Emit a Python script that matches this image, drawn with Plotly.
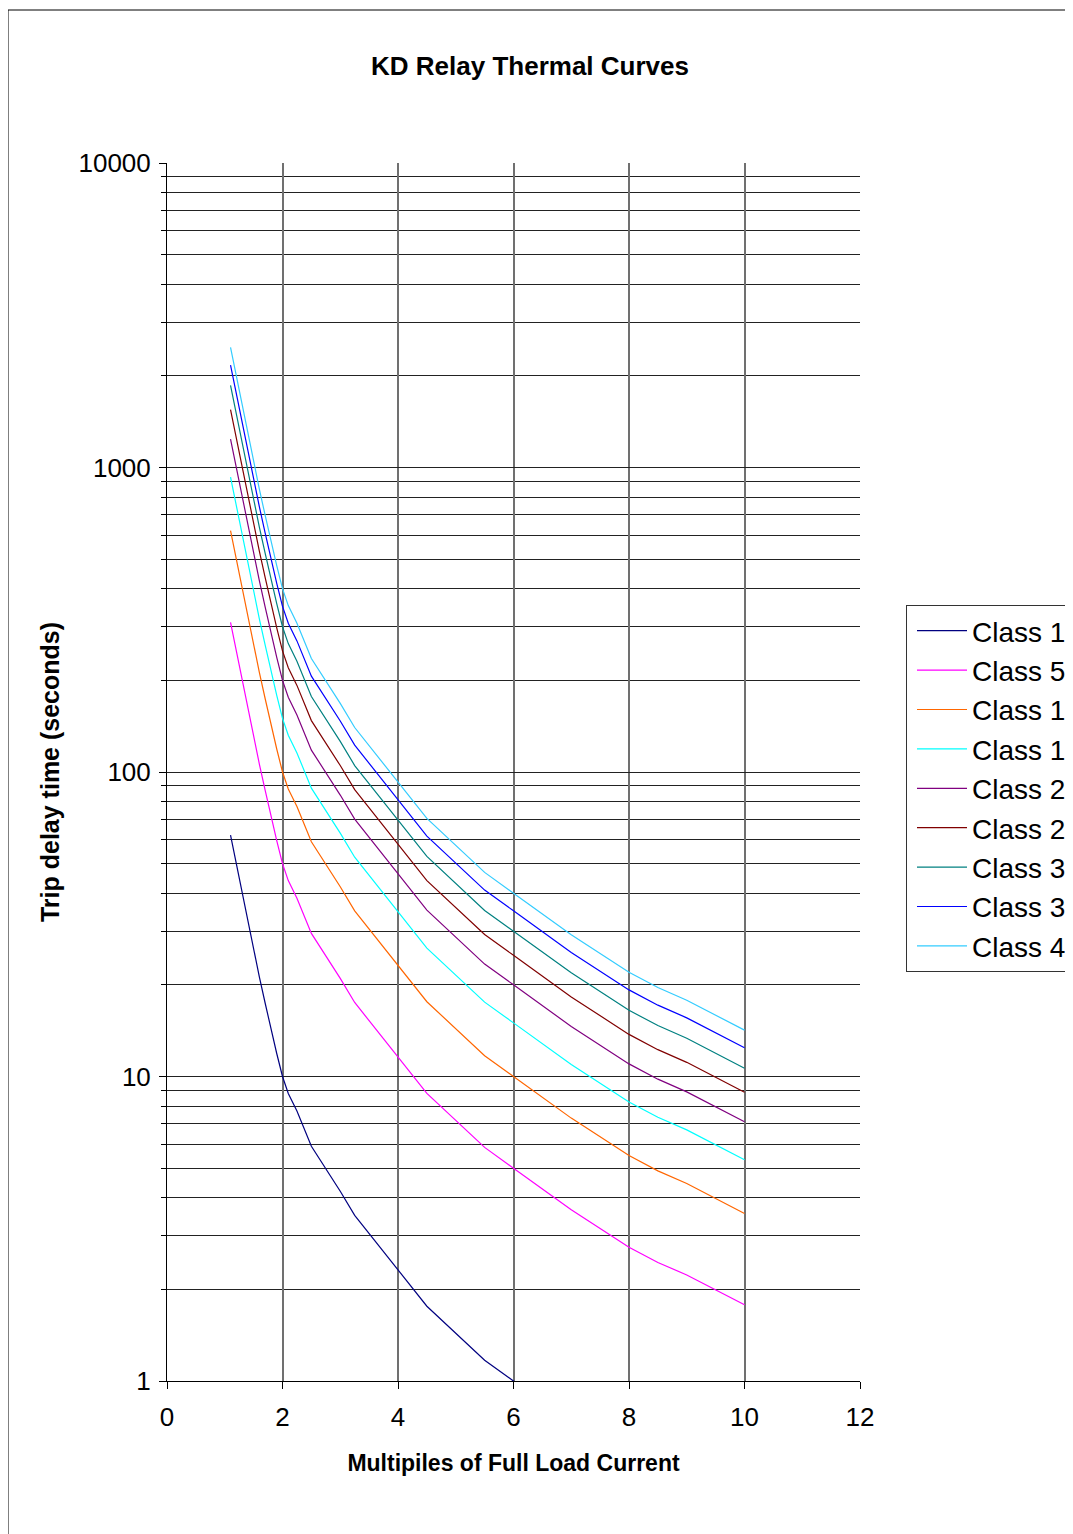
import plotly.graph_objects as go

# Multiples of full load current (x) shared by all curves
multiples = [1.1, 1.2, 1.3, 1.4, 1.5, 1.6, 1.7, 1.8, 1.9, 2.0, 2.1, 2.25, 2.4, 2.5,
             3.0, 3.25, 4.5, 5.5, 6.0, 7.0, 8.0, 8.5, 9.0, 10.0]

class_1 = [62, 50, 40, 32.4, 26, 21.2, 17.4, 14.3, 11.9, 10, 8.8, 7.7, 6.6, 5.9,
           4.2, 3.5, 1.76, 1.17, 1.0, 0.73, 0.55, 0.49, 0.445, 0.355]
class_5 = [310, 250, 200, 162, 130, 106, 87, 71.5, 59.5, 50, 44, 38.5, 33, 29.5,
           21, 17.5, 8.8, 5.85, 5.0, 3.65, 2.75, 2.45, 2.23, 1.78]
class_10 = [620, 500, 400, 324, 260, 212, 174, 143, 119, 100, 88, 77, 66, 59,
            42, 35, 17.6, 11.7, 10, 7.3, 5.5, 4.9, 4.45, 3.55]
class_15 = [930, 750, 600, 486, 390, 318, 261, 214.5, 178.5, 150, 132, 115.5, 99, 88.5,
            63, 52.5, 26.4, 17.55, 15, 10.95, 8.25, 7.35, 6.68, 5.33]
class_20 = [1240, 1000, 800, 648, 520, 424, 348, 286, 238, 200, 176, 154, 132, 118,
            84, 70, 35.2, 23.4, 20, 14.6, 11, 9.8, 8.9, 7.1]
class_25 = [1550, 1250, 1000, 810, 650, 530, 435, 357.5, 297.5, 250, 220, 192.5, 165, 147.5,
            105, 87.5, 44, 29.25, 25, 18.25, 13.75, 12.25, 11.13, 8.88]
class_30 = [1860, 1500, 1200, 972, 780, 636, 522, 429, 357, 300, 264, 231, 198, 177,
            126, 105, 52.8, 35.1, 30, 21.9, 16.5, 14.7, 13.35, 10.65]
class_35 = [2170, 1750, 1400, 1134, 910, 742, 609, 500.5, 416.5, 350, 308, 269.5, 231, 206.5,
            147, 122.5, 61.6, 40.95, 35, 25.55, 19.25, 17.15, 15.58, 12.43]
class_40 = [2480, 2000, 1600, 1296, 1040, 848, 696, 572, 476, 400, 352, 308, 264, 236,
            168, 140, 70.4, 46.8, 40, 29.2, 22, 19.6, 17.8, 14.2]

series_names = ["Class 1", "Class 5", "Class 10", "Class 15", "Class 20",
                "Class 25", "Class 30", "Class 35", "Class 40"]
series_values = [class_1, class_5, class_10, class_15, class_20,
                 class_25, class_30, class_35, class_40]
series_colors = ["#000080", "#FF00FF", "#FF6600", "#00FFFF", "#800080",
                 "#800000", "#008080", "#0000FF", "#33CCFF"]

x_ticks = [0, 2, 4, 6, 8, 10, 12]
y_ticks = [1, 10, 100, 1000, 10000]
y_tick_labels = ["1", "10", "100", "1000", "10000"]

FONT = "Liberation Sans, Arial, sans-serif"

# The page places the figure at an 8px offset; sizes are chosen so the
# plot area sits at x 167..860, y 163..1381 in the window.
W, H = 1065, 1526
L, R, T, B = 159, 213, 155, 153
PW, PH = W - L - R, H - T - B

fig = go.Figure()
for name, vals, col in zip(series_names, series_values, series_colors):
    fig.add_trace(go.Scatter(x=multiples, y=vals, mode="lines", name=name,
                             line=dict(color=col, width=1.2)))

fig.update_layout(
    width=W, height=H,
    margin=dict(l=L, r=R, t=T, b=B, autoexpand=False),
    paper_bgcolor="white", plot_bgcolor="white",
    font=dict(family=FONT, color="black", size=26),
    title=dict(text="<b>KD Relay Thermal Curves</b>", x=(530 - 8) / W, xref="container",
               y=1 - (66 - 8) / H, yref="container", xanchor="center", yanchor="middle",
               font=dict(size=26, family=FONT)),
    showlegend=True,
    legend=dict(x=(906 - 167) / PW, y=(1381 - 605) / PH, xanchor="left", yanchor="top",
                bordercolor="#333333", borderwidth=1, bgcolor="white",
                font=dict(size=28, family=FONT), itemwidth=50, indentation=5),
    shapes=[dict(type="rect", xref="paper", yref="paper",
                 x0=(8 - 167) / PW, x1=2.0, y0=-1.0, y1=(1381 - 10) / PH,
                 line=dict(color="black", width=1), fillcolor="rgba(0,0,0,0)", layer="below")],
)

fig.update_xaxes(
    range=[0, 12], tickvals=x_ticks, ticktext=[str(v) for v in x_ticks],
    showgrid=True, gridcolor="#707070", gridwidth=1.5,
    showline=True, linecolor="black", linewidth=1,
    ticks="outside", ticklen=7, tickcolor="black", ticklabelstandoff=6,
    tickfont=dict(size=26), zeroline=False,
    title=dict(text="<b>Multipiles of Full Load Current</b>", standoff=23,
               font=dict(size=23)),
)
fig.update_yaxes(
    type="log", range=[0, 4], tickvals=y_ticks, ticktext=y_tick_labels,
    showgrid=True, gridcolor="#222222", gridwidth=1,
    showline=True, linecolor="black", linewidth=1,
    ticks="outside", ticklen=7, tickcolor="black", ticklabelstandoff=3,
    tickfont=dict(size=26), zeroline=False,
    minor=dict(dtick="D1", showgrid=True, gridcolor="#222222", gridwidth=1,
               ticks="outside", ticklen=5, tickcolor="black"),
    title=dict(text="<b>Trip delay time (seconds)</b>", standoff=11,
               font=dict(size=25)),
)

fig.write_html("out.html")
